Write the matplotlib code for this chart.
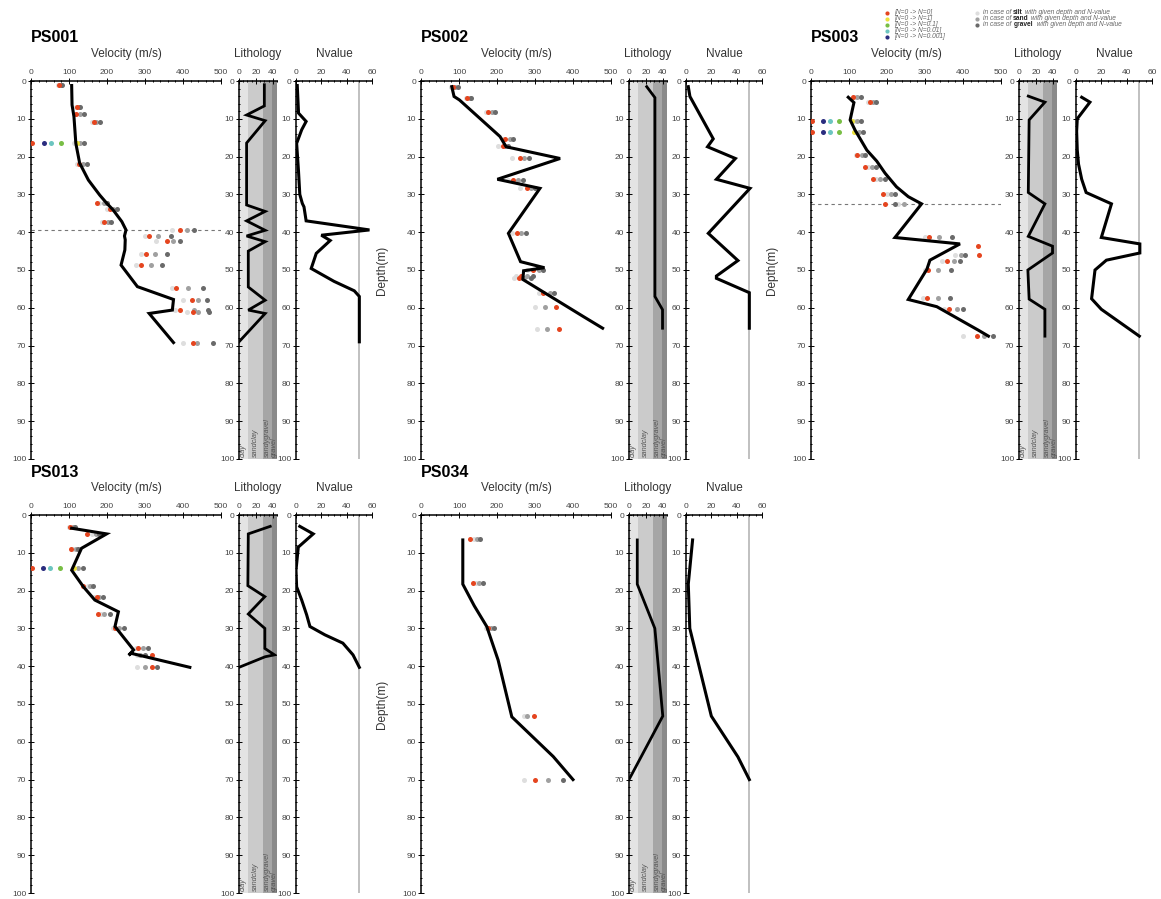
import matplotlib
matplotlib.use("Agg")
import matplotlib.pyplot as plt
import numpy as np

plt.rcParams['font.family'] = ['Liberation Sans', 'DejaVu Sans']

W, H = 1161, 899
nan = np.nan

# ---------------- PS001
ps001_vel_depth = [1.2, 6.3, 9.4, 16.5, 21.7, 26.2, 30.2, 32.3, 34.1, 37.2, 39.4, 41.0, 42.0, 44.7, 48.7, 54.4, 57.8, 60.6, 61.5, 69.2]
ps001_vel = [107, 108, 113, 118, 128, 151, 181, 199, 216, 239, 250, 246, 248, 247, 237, 280, 375, 372, 311, 375]
ps001_lith_depth = [1, 6.6, 9, 10.5, 16.4, 32.8, 34.5, 37, 39.5, 41, 42.5, 45, 54.5, 58, 60.6, 61.5, 69]
ps001_lith = [30, 30, 9, 31, 9, 9, 31, 9, 31, 9, 31, 11, 11, 31, 11, 31, 0]
ps001_n_depth = [1.2, 8.5, 10.7, 12.9, 16.5, 24, 30, 32.4, 33.3, 37, 39.4, 40.8, 42.2, 45.6, 49.6, 53, 55.5, 57, 69]
ps001_n = [1, 2, 8, 4.5, 0.5, 2, 3, 5, 6.3, 8, 58, 20, 27, 16, 12, 30, 46, 50, 50]
ps001_dot_depth = [1.1, 6.8, 8.8, 10.8, 16.5, 22, 32.4, 33.9, 37.2, 39.4, 41, 42.2, 45.8, 48.7, 54.7, 57.9, 60.6, 61.2, 69.2]
ps001_red = [74, 120, 119, 166, 3, 125, 173, 208, 193, 392, 311, 357, 302, 289, 381, 423, 393, 427, 427]
ps001_silt = [70, 118, 116, 160, 112, 120, 180, 200, 188, 370, 300, 330, 290, 275, 370, 400, 380, 410, 400]
ps001_sand = [78, 125, 128, 172, 130, 137, 192, 215, 202, 410, 333, 375, 326, 315, 412, 440, 428, 440, 438]
ps001_gravel = [82, 130, 140, 182, 140, 148, 201, 227, 210, 429, 368, 392, 359, 345, 452, 464, 466, 468, 478]
ps001_zero_depth = [16.5]
ps001_blue = [35]
ps001_cyan = [53]
ps001_green = [79]
ps001_yellow = [120]
ps001_boundary = 39.4

# ---------------- PS002
ps002_vel_depth = [1.5, 4.1, 5, 14.7, 17.4, 20.5, 26, 28.4, 40.3, 47.8, 49.4, 50.2, 52.5, 62.3, 65.4]
ps002_vel = [81, 87, 101, 208, 224, 366, 201, 313, 230, 262, 325, 270, 268, 427, 478]
ps002_lith_depth = [1.5, 4.4, 57, 60.5, 65.4]
ps002_lith = [21, 30.7, 30.7, 39.7, 39.7]
ps002_n_depth = [1.5, 4.1, 15.3, 17.4, 20.5, 26, 28.4, 40.3, 47.5, 51.6, 52.2, 56, 65.4]
ps002_n = [1.8, 3.1, 21.5, 17, 39, 24, 50.5, 17.6, 41, 24, 24, 50, 50]
ps002_dot_depth = [1.5, 4.4, 8.3, 15.3, 17.1, 20.5, 26.3, 28.4, 40.3, 50, 51.5, 52, 56, 59.7, 65.6]
ps002_red = [83, 122, 177, 222, 215, 261, 243, 280, 252, 294, 262, 259, 322, 354, 363]
ps002_silt = [80, 118, 170, 215, 202, 240, 230, 261, 240, 280, 250, 245, 310, 300, 304]
ps002_sand = [90, 128, 188, 235, 220, 272, 255, 290, 264, 310, 280, 270, 340, 325, 331]
ps002_gravel = [98, 132, 196, 243, 230, 285, 268, 300, 276, 322, 295, 290, 351, nan, nan]
ps002_zero_depth = []
ps002_blue = []
ps002_cyan = []
ps002_green = []
ps002_yellow = []
ps002_boundary = None

# ---------------- PS003
ps003_vel_depth = [4.3, 5.7, 10.3, 13, 18.3, 21.2, 24.4, 28, 30.6, 32.5, 41.4, 43.1, 47.4, 49.8, 57.8, 59.7, 65.9, 67.5]
ps003_vel = [98, 113, 103, 116, 147, 173, 195, 225, 256, 291, 221, 392, 313, 305, 256, 331, 440, 467]
ps003_lith_depth = [4, 5.6, 10.3, 29.5, 32.5, 41.1, 43.7, 45.5, 50, 57.7, 60.4, 67.5]
ps003_lith = [11, 30.7, 12, 11, 30.7, 11, 39.7, 39.7, 10.5, 12, 30.7, 30.7]
ps003_n_depth = [4.3, 5.6, 10, 13.3, 18.3, 22, 26, 29.5, 32.5, 41.4, 43.1, 45.5, 47.4, 50, 57.6, 60.4, 67.5]
ps003_n = [4.5, 11, 1, 0.5, 1, 2, 4.5, 8, 28, 20, 50.4, 50.4, 24, 15, 12.3, 20, 50]
ps003_dot_depth = [4.3, 5.6, 10.6, 13.4, 19.6, 22.7, 26, 29.9, 32.5, 41.4, 43.7, 45.9, 47.6, 50, 57.5, 60.4, 67.5]
ps003_red = [110, 155, 2, 2, 122, 142, 164, 190, 195, 311, 440, 443, 357, 309, 306, 364, 436]
ps003_silt = [115, 150, 112, 115, 118, 150, 170, 200, 230, 300, nan, 380, 345, 300, 295, 350, 401]
ps003_sand = [122, 163, 122, 125, 135, 160, 182, 210, 245, 338, nan, 395, 375, 335, 335, 385, 455]
ps003_gravel = [131, 171, 131, 136, 142, 171, 195, 221, 222, 370, nan, 405, 391, 368, 365, 399, 478]
ps003_zero_depth = [10.6, 13.4]
ps003_blue = [32, 32]
ps003_cyan = [50, 50]
ps003_green = [74, 74]
ps003_yellow = [107, 113]
ps003_boundary = 32.5

# ---------------- PS013
ps013_vel_depth = [3.5, 5, 8.8, 14.6, 19, 22.5, 25.6, 29.5, 35.7, 37.1, 36.6, 40.3]
ps013_vel = [107, 199, 133, 107, 138, 168, 230, 221, 270, 257, 264, 418]
ps013_lith_depth = [3, 5, 18.7, 21.6, 26.2, 30, 35.3, 37, 37.5, 40.3]
ps013_lith = [37, 11, 10.5, 30.6, 11, 30.6, 30.6, 42, 31, 0]
ps013_n_depth = [3, 5, 8.5, 14.6, 19, 22.5, 26.4, 29.5, 31.7, 33.9, 37, 40.3]
ps013_n = [3, 13.6, 1.8, 0, 0.5, 4.5, 8.4, 11, 22.8, 37, 45, 50]
ps013_dot_depth = [3.1, 5, 9.1, 14.1, 18.7, 21.6, 26.2, 30, 35.3, 37, 40.3]
ps013_red = [103, 148, 104, 2, 138, 173, 177, 221, 282, 318, 318]
ps013_silt = [100, 160, 110, 110, 150, 165, 185, 215, 275, 280, 278]
ps013_sand = [110, 172, 118, 124, 155, 180, 192, 232, 295, 287, 300]
ps013_gravel = [115, 180, 124, 136, 162, 189, 208, 244, 309, 300, 331]
ps013_zero_depth = [14.1]
ps013_blue = [32]
ps013_cyan = [50]
ps013_green = [76]
ps013_yellow = [113]
ps013_boundary = None

# ---------------- PS034
ps034_vel_depth = [6.6, 18.3, 24, 29.5, 38.4, 53.4, 63.9, 70]
ps034_vel = [110, 110, 140, 173, 203, 239, 348, 400]
ps034_lith_depth = [6.6, 18.3, 30, 53.2, 70]
ps034_lith = [9.8, 9.8, 30.6, 40, 0]
ps034_n_depth = [6.6, 18.3, 30, 53.2, 64, 70]
ps034_n = [5.2, 1.8, 3, 20, 41, 50]
ps034_dot_depth = [6.4, 18.1, 30, 53.2, 70]
ps034_red = [129, 136, 175, 297, 300]
ps034_silt = [140, 145, 170, 271, 270]
ps034_sand = [148, 152, 185, 280, 334]
ps034_gravel = [155, 162, 192, nan, 374]
ps034_zero_depth = []
ps034_blue = []
ps034_cyan = []
ps034_green = []
ps034_yellow = []
ps034_boundary = None

boreholes = [
    ("PS001", 0, 0, ps001_vel_depth, ps001_vel, ps001_lith_depth, ps001_lith, ps001_n_depth, ps001_n,
     ps001_dot_depth, ps001_red, ps001_silt, ps001_sand, ps001_gravel,
     ps001_zero_depth, ps001_blue, ps001_cyan, ps001_green, ps001_yellow, ps001_boundary),
    ("PS002", 1, 0, ps002_vel_depth, ps002_vel, ps002_lith_depth, ps002_lith, ps002_n_depth, ps002_n,
     ps002_dot_depth, ps002_red, ps002_silt, ps002_sand, ps002_gravel,
     ps002_zero_depth, ps002_blue, ps002_cyan, ps002_green, ps002_yellow, ps002_boundary),
    ("PS003", 2, 0, ps003_vel_depth, ps003_vel, ps003_lith_depth, ps003_lith, ps003_n_depth, ps003_n,
     ps003_dot_depth, ps003_red, ps003_silt, ps003_sand, ps003_gravel,
     ps003_zero_depth, ps003_blue, ps003_cyan, ps003_green, ps003_yellow, ps003_boundary),
    ("PS013", 0, 1, ps013_vel_depth, ps013_vel, ps013_lith_depth, ps013_lith, ps013_n_depth, ps013_n,
     ps013_dot_depth, ps013_red, ps013_silt, ps013_sand, ps013_gravel,
     ps013_zero_depth, ps013_blue, ps013_cyan, ps013_green, ps013_yellow, ps013_boundary),
    ("PS034", 1, 1, ps034_vel_depth, ps034_vel, ps034_lith_depth, ps034_lith, ps034_n_depth, ps034_n,
     ps034_dot_depth, ps034_red, ps034_silt, ps034_sand, ps034_gravel,
     ps034_zero_depth, ps034_blue, ps034_cyan, ps034_green, ps034_yellow, ps034_boundary),
]

lith_names = ["clay", "sandclay", "sandygravel", "gravel"]
lith_edges = [0, 10.5, 28.5, 38.5, 45]
lith_colors = ["#e4e4e4", "#cbcbcb", "#a6a6a6", "#8a8a8a"]

legend_labels = ["[N=0 -> N=0]", "[N=0 -> N=1]", "[N=0 -> N=0.1]", "[N=0 -> N=0.01]", "[N=0 -> N=0.001]"]
legend_colors = ["#e5451f", "#ece23c", "#78be45", "#6cc5c0", "#2b2d7f"]
soil_words = ["silt", "sand", "gravel"]
soil_colors = ["#dedede", "#a0a0a0", "#6a6a6a"]

RED, SILT, SAND, GRAVEL = "#e5451f", "#dedede", "#a0a0a0", "#6a6a6a"
BLUE, CYAN, GREEN, YELLOW = "#2b2d7f", "#6cc5c0", "#78be45", "#ece23c"
TICKC = "#444444"

fig = plt.figure(figsize=(W / 100, H / 100), dpi=100)


def px_axes(left, top, width, height):
    return fig.add_axes([left / W, 1 - (top + height) / H, width / W, height / H])


def style(ax, xmax, major, minor):
    ax.set_ylim(100, 0)
    ax.set_xlim(0, xmax)
    ax.xaxis.tick_top()
    ax.set_xticks(major)
    ax.set_xticks(np.arange(0, xmax + 0.01, minor), minor=True)
    ax.set_yticks(range(0, 101, 10))
    ax.set_yticks(range(0, 101, 2), minor=True)
    for s in ["right", "bottom"]:
        ax.spines[s].set_visible(False)
    for s in ["top", "left"]:
        ax.spines[s].set_linewidth(1.1)
    ax.tick_params(which="both", direction="inout", labelsize=6, labelcolor=TICKC,
                   width=0.7, pad=1.5)
    ax.tick_params(which="major", length=4)
    ax.tick_params(which="minor", length=2)
    ax.patch.set_alpha(0)


for (name, col, row, vd, vv, ld, lv, nd, nv, dd, red, silt, sand, grav,
     zd, zb, zc, zg, zy, bnd) in boreholes:
    gx = 390 * col
    top = 81 if row == 0 else 515
    hgt = 378

    # velocity
    ax = px_axes(31 + gx, top, 190, hgt)
    style(ax, 500, range(0, 501, 100), 20)
    if bnd is not None:
        ax.axhline(bnd, color="#777777", lw=0.8, ls=(0, (3, 3)), zorder=1)
    ms = 13
    ax.scatter(silt, dd, s=ms, color=SILT, lw=0, zorder=2)
    ax.scatter(sand, dd, s=ms, color=SAND, lw=0, zorder=2)
    ax.scatter(grav, dd, s=ms, color=GRAVEL, lw=0, zorder=2)
    ax.scatter(zb, zd, s=ms, color=BLUE, lw=0, zorder=2)
    ax.scatter(zc, zd, s=ms, color=CYAN, lw=0, zorder=2)
    ax.scatter(zg, zd, s=ms, color=GREEN, lw=0, zorder=2)
    ax.scatter(zy, zd, s=ms, color=YELLOW, lw=0, zorder=2)
    ax.scatter(red, dd, s=ms, color=RED, lw=0, zorder=3)
    ax.plot(vv, vd, color="black", lw=2.2, solid_joinstyle="miter", zorder=4)
    if col > 0:
        ax.set_ylabel("Depth(m)", fontsize=8.5, color="#333333", labelpad=10)

    # lithology
    axl = px_axes(239 + gx, top, 38, hgt)
    style(axl, 45, [0, 20, 40], 5)
    for i in range(4):
        axl.axvspan(lith_edges[i], lith_edges[i + 1], color=lith_colors[i], lw=0, zorder=0)
        axl.text((lith_edges[i] + lith_edges[i + 1]) / 2, 99.5, lith_names[i], rotation=90,
                 fontsize=5.2, style="italic", color="#555555", ha="center", va="bottom")
    axl.plot(lv, ld, color="black", lw=2.0, solid_joinstyle="miter", zorder=4)

    # N value
    axn = px_axes(296 + gx, top, 76, hgt)
    style(axn, 60, range(0, 61, 20), 5)
    axn.axvline(50, color="#b5b5b5", lw=1.2, zorder=1)
    axn.plot(nv, nd, color="black", lw=2.2, solid_joinstyle="miter", zorder=4)

    fig.text((31 + gx) / W, 1 - (top - 43) / H, name, fontsize=11.5, weight="bold",
             va="center", ha="left")
    fig.text((126 + gx) / W, 1 - (top - 27) / H, "Velocity (m/s)", fontsize=8.5,
             color="#333333", ha="center", va="center")
    fig.text((258 + gx) / W, 1 - (top - 27) / H, "Lithology", fontsize=8.5,
             color="#333333", ha="center", va="center")
    fig.text((334 + gx) / W, 1 - (top - 27) / H, "Nvalue", fontsize=8.5,
             color="#333333", ha="center", va="center")

# legend (pixel coords overlay)
lax = fig.add_axes([0, 0, 1, 1])
lax.set_xlim(0, W)
lax.set_ylim(H, 0)
lax.axis("off")
for i, (lab, c) in enumerate(zip(legend_labels, legend_colors)):
    y = 12.5 + 6 * i
    lax.scatter([887], [y], s=9, color=c, lw=0)
    lax.text(894, y, lab, fontsize=4.8, style="italic", color="#666666", va="center")
for i, (w, c) in enumerate(zip(soil_words, soil_colors)):
    y = 12.5 + 6 * i
    lax.scatter([977], [y], s=9, color=c, lw=0)
    t = lax.text(983, y, "in case of ", fontsize=4.8, style="italic", color="#666666", va="center")
    t = lax.annotate(w, xy=(1, 0), xycoords=t, fontsize=4.8, weight="bold", color="#222222",
                     va="bottom")
    gap = "  " if w == "gravel" else " "
    lax.annotate(gap + "with given depth and N-value", xy=(1, 0), xycoords=t, fontsize=4.8,
                 style="italic", color="#666666", va="bottom")

fig.savefig("out.png", dpi=100)
